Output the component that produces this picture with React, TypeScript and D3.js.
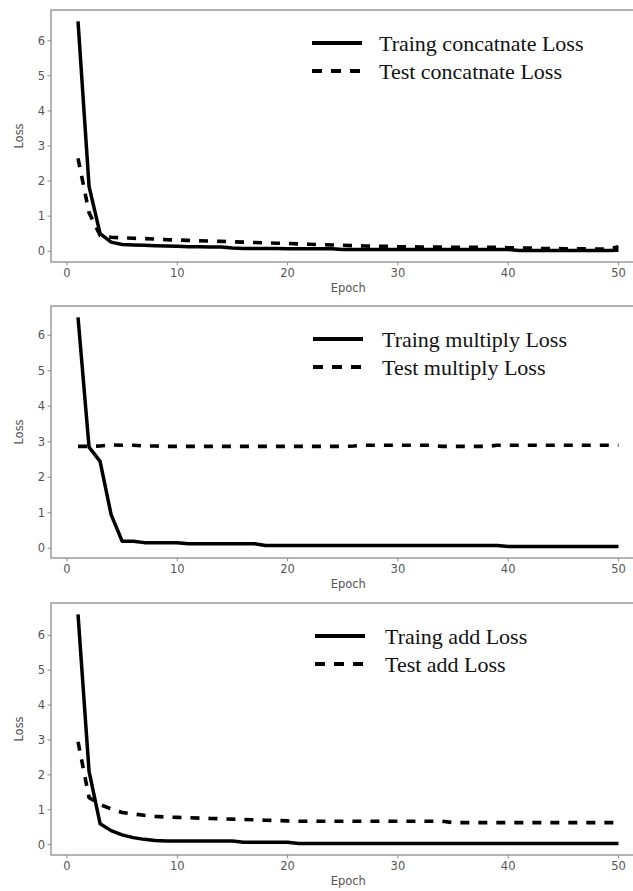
import React from "react";
import * as d3 from "d3";

const epochs: number[] = d3.range(1, 51);

const trainConcat: number[] = [
  6.55, 1.85, 0.5, 0.26, 0.19, 0.18, 0.17, 0.16, 0.15, 0.14,
  0.13, 0.13, 0.12, 0.12, 0.09, 0.08, 0.08, 0.08, 0.08, 0.07,
  0.07, 0.07, 0.07, 0.07, 0.05, 0.05, 0.05, 0.05, 0.05, 0.05,
  0.05, 0.05, 0.05, 0.05, 0.05, 0.05, 0.05, 0.05, 0.05, 0.05,
  0.02, 0.02, 0.02, 0.02, 0.02, 0.02, 0.02, 0.02, 0.02, 0.03,
];
const testConcat: number[] = [
  2.65, 1.1, 0.45, 0.4, 0.38, 0.37, 0.36, 0.35, 0.33, 0.32,
  0.31, 0.3, 0.29, 0.28, 0.27, 0.26, 0.25, 0.24, 0.23, 0.22,
  0.21, 0.2, 0.19, 0.18, 0.17, 0.16, 0.15, 0.14, 0.14, 0.13,
  0.13, 0.12, 0.12, 0.12, 0.11, 0.11, 0.11, 0.11, 0.11, 0.1,
  0.09, 0.09, 0.08, 0.08, 0.07, 0.07, 0.07, 0.06, 0.06, 0.13,
];
const trainMultiply: number[] = [
  6.5, 2.85, 2.45, 0.95, 0.2, 0.2, 0.16, 0.16, 0.16, 0.16,
  0.13, 0.13, 0.13, 0.13, 0.13, 0.13, 0.13, 0.08, 0.08, 0.08,
  0.08, 0.08, 0.08, 0.08, 0.08, 0.08, 0.08, 0.08, 0.08, 0.08,
  0.08, 0.08, 0.08, 0.08, 0.08, 0.08, 0.08, 0.08, 0.08, 0.05,
  0.05, 0.05, 0.05, 0.05, 0.05, 0.05, 0.05, 0.05, 0.05, 0.05,
];
const testMultiply: number[] = [
  2.87, 2.87, 2.88, 2.91, 2.9, 2.9, 2.88, 2.88, 2.87, 2.87,
  2.87, 2.87, 2.87, 2.87, 2.87, 2.87, 2.87, 2.87, 2.87, 2.87,
  2.87, 2.87, 2.87, 2.87, 2.87, 2.88, 2.9, 2.9, 2.9, 2.9,
  2.9, 2.9, 2.9, 2.87, 2.87, 2.87, 2.87, 2.87, 2.9, 2.9,
  2.9, 2.9, 2.9, 2.9, 2.9, 2.9, 2.9, 2.9, 2.9, 2.9,
];
const trainAdd: number[] = [
  6.6, 2.1, 0.6, 0.4, 0.28, 0.2, 0.15, 0.12, 0.1, 0.1,
  0.1, 0.1, 0.1, 0.1, 0.1, 0.07, 0.07, 0.07, 0.07, 0.07,
  0.03, 0.03, 0.03, 0.03, 0.03, 0.03, 0.03, 0.03, 0.03, 0.03,
  0.03, 0.03, 0.03, 0.03, 0.03, 0.03, 0.03, 0.03, 0.03, 0.03,
  0.03, 0.03, 0.03, 0.03, 0.03, 0.03, 0.03, 0.03, 0.03, 0.03,
];
const testAdd: number[] = [
  2.95, 1.35, 1.15, 1.02, 0.92, 0.88, 0.84, 0.81, 0.79, 0.78,
  0.77, 0.76, 0.75, 0.74, 0.73, 0.72, 0.71, 0.7, 0.69, 0.68,
  0.67, 0.67, 0.67, 0.67, 0.67, 0.67, 0.67, 0.67, 0.67, 0.67,
  0.67, 0.67, 0.67, 0.67, 0.63, 0.63, 0.63, 0.63, 0.63, 0.63,
  0.63, 0.63, 0.63, 0.63, 0.63, 0.63, 0.63, 0.63, 0.63, 0.63,
];

const xTicks: number[] = [0, 10, 20, 30, 40, 50];
const yTicks: number[] = [0, 1, 2, 3, 4, 5, 6];

const panelNames: string[] = ["concatnate", "multiply", "add"];
const trainSeries: number[][] = [trainConcat, trainMultiply, trainAdd];
const testSeries: number[][] = [testConcat, testMultiply, testAdd];

const W = 633;
const H = 891;
const panelTops = [10, 306, 603];
const panelH = 252;
const legendX = [[312, 379], [313, 382], [315, 385]];
const axisColor = "#8c8c8c";
const tickText = "#555";
const tickFont = "'DejaVu Sans', sans-serif";
const legendFont = "'Liberation Serif', 'Times New Roman', serif";

const xScale = d3.scaleLinear().domain([-1.45, 52.45]).range([51, 645.5]);

function Panel({ idx }: { idx: number }) {
  const top = panelTops[idx];
  const bottom = top + panelH;
  const train = trainSeries[idx];
  const test = testSeries[idx];
  const all = [...train, ...test];
  const [mn, mx] = d3.extent(all) as [number, number];
  const pad = (mx - mn) * 0.05;
  const y = d3.scaleLinear().domain([mn - pad, mx + pad]).range([bottom, top]);
  const line = d3
    .line<number>()
    .x((_, i) => xScale(epochs[i]))
    .y((d) => y(d));
  const left = xScale.range()[0];
  const right = xScale.range()[1];
  const [lx, tx] = legendX[idx];
  const name = panelNames[idx];
  return (
    <g>
      <path d={line(test) || ""} fill="none" stroke="#000" strokeWidth={3.6} strokeDasharray="9,9" />
      <path d={line(train) || ""} fill="none" stroke="#000" strokeWidth={3.5} strokeLinejoin="round" />
      <rect x={left} y={top} width={right - left} height={panelH} fill="none" stroke={axisColor} strokeWidth={1.3} />
      {xTicks.map((t) => (
        <g key={"x" + t}>
          <line x1={xScale(t)} x2={xScale(t)} y1={bottom} y2={bottom + 3.5} stroke={axisColor} strokeWidth={1} />
          <text x={xScale(t)} y={bottom + 15} textAnchor="middle" fontFamily={tickFont} fontSize={11.5} fill={tickText}>
            {t}
          </text>
        </g>
      ))}
      {yTicks.map((t) => (
        <g key={"y" + t}>
          <line x1={left - 3.5} x2={left} y1={y(t)} y2={y(t)} stroke={axisColor} strokeWidth={1} />
          <text x={left - 6} y={y(t)} dy="0.35em" textAnchor="end" fontFamily={tickFont} fontSize={11.5} fill={tickText}>
            {t}
          </text>
        </g>
      ))}
      <text x={(left + right) / 2} y={bottom + 30} textAnchor="middle" fontFamily={tickFont} fontSize={11.5} fill={tickText}>
        Epoch
      </text>
      <text
        transform={`translate(23,${(top + bottom) / 2}) rotate(-90)`}
        textAnchor="middle"
        fontFamily={tickFont}
        fontSize={11.5}
        fill={tickText}
      >
        Loss
      </text>
      <line x1={lx} x2={lx + 50} y1={top + 33} y2={top + 33} stroke="#000" strokeWidth={4} />
      <line x1={lx} x2={lx + 50} y1={top + 61} y2={top + 61} stroke="#000" strokeWidth={4} strokeDasharray="10,9" />
      <text x={tx} y={top + 41} fontFamily={legendFont} fontSize={22} fill="#111">
        {`Traing ${name} Loss`}
      </text>
      <text x={tx} y={top + 69} fontFamily={legendFont} fontSize={22} fill="#111">
        {`Test ${name} Loss`}
      </text>
    </g>
  );
}

export default function App() {
  return (
    <svg
      width={W}
      height={H}
      viewBox={`0 0 ${W} ${H}`}
      style={{ position: "absolute", left: 0, top: 0, background: "#fff" }}
    >
      <rect x={0} y={0} width={W} height={H} fill="#fff" />
      {[0, 1, 2].map((i) => (
        <Panel key={i} idx={i} />
      ))}
    </svg>
  );
}
